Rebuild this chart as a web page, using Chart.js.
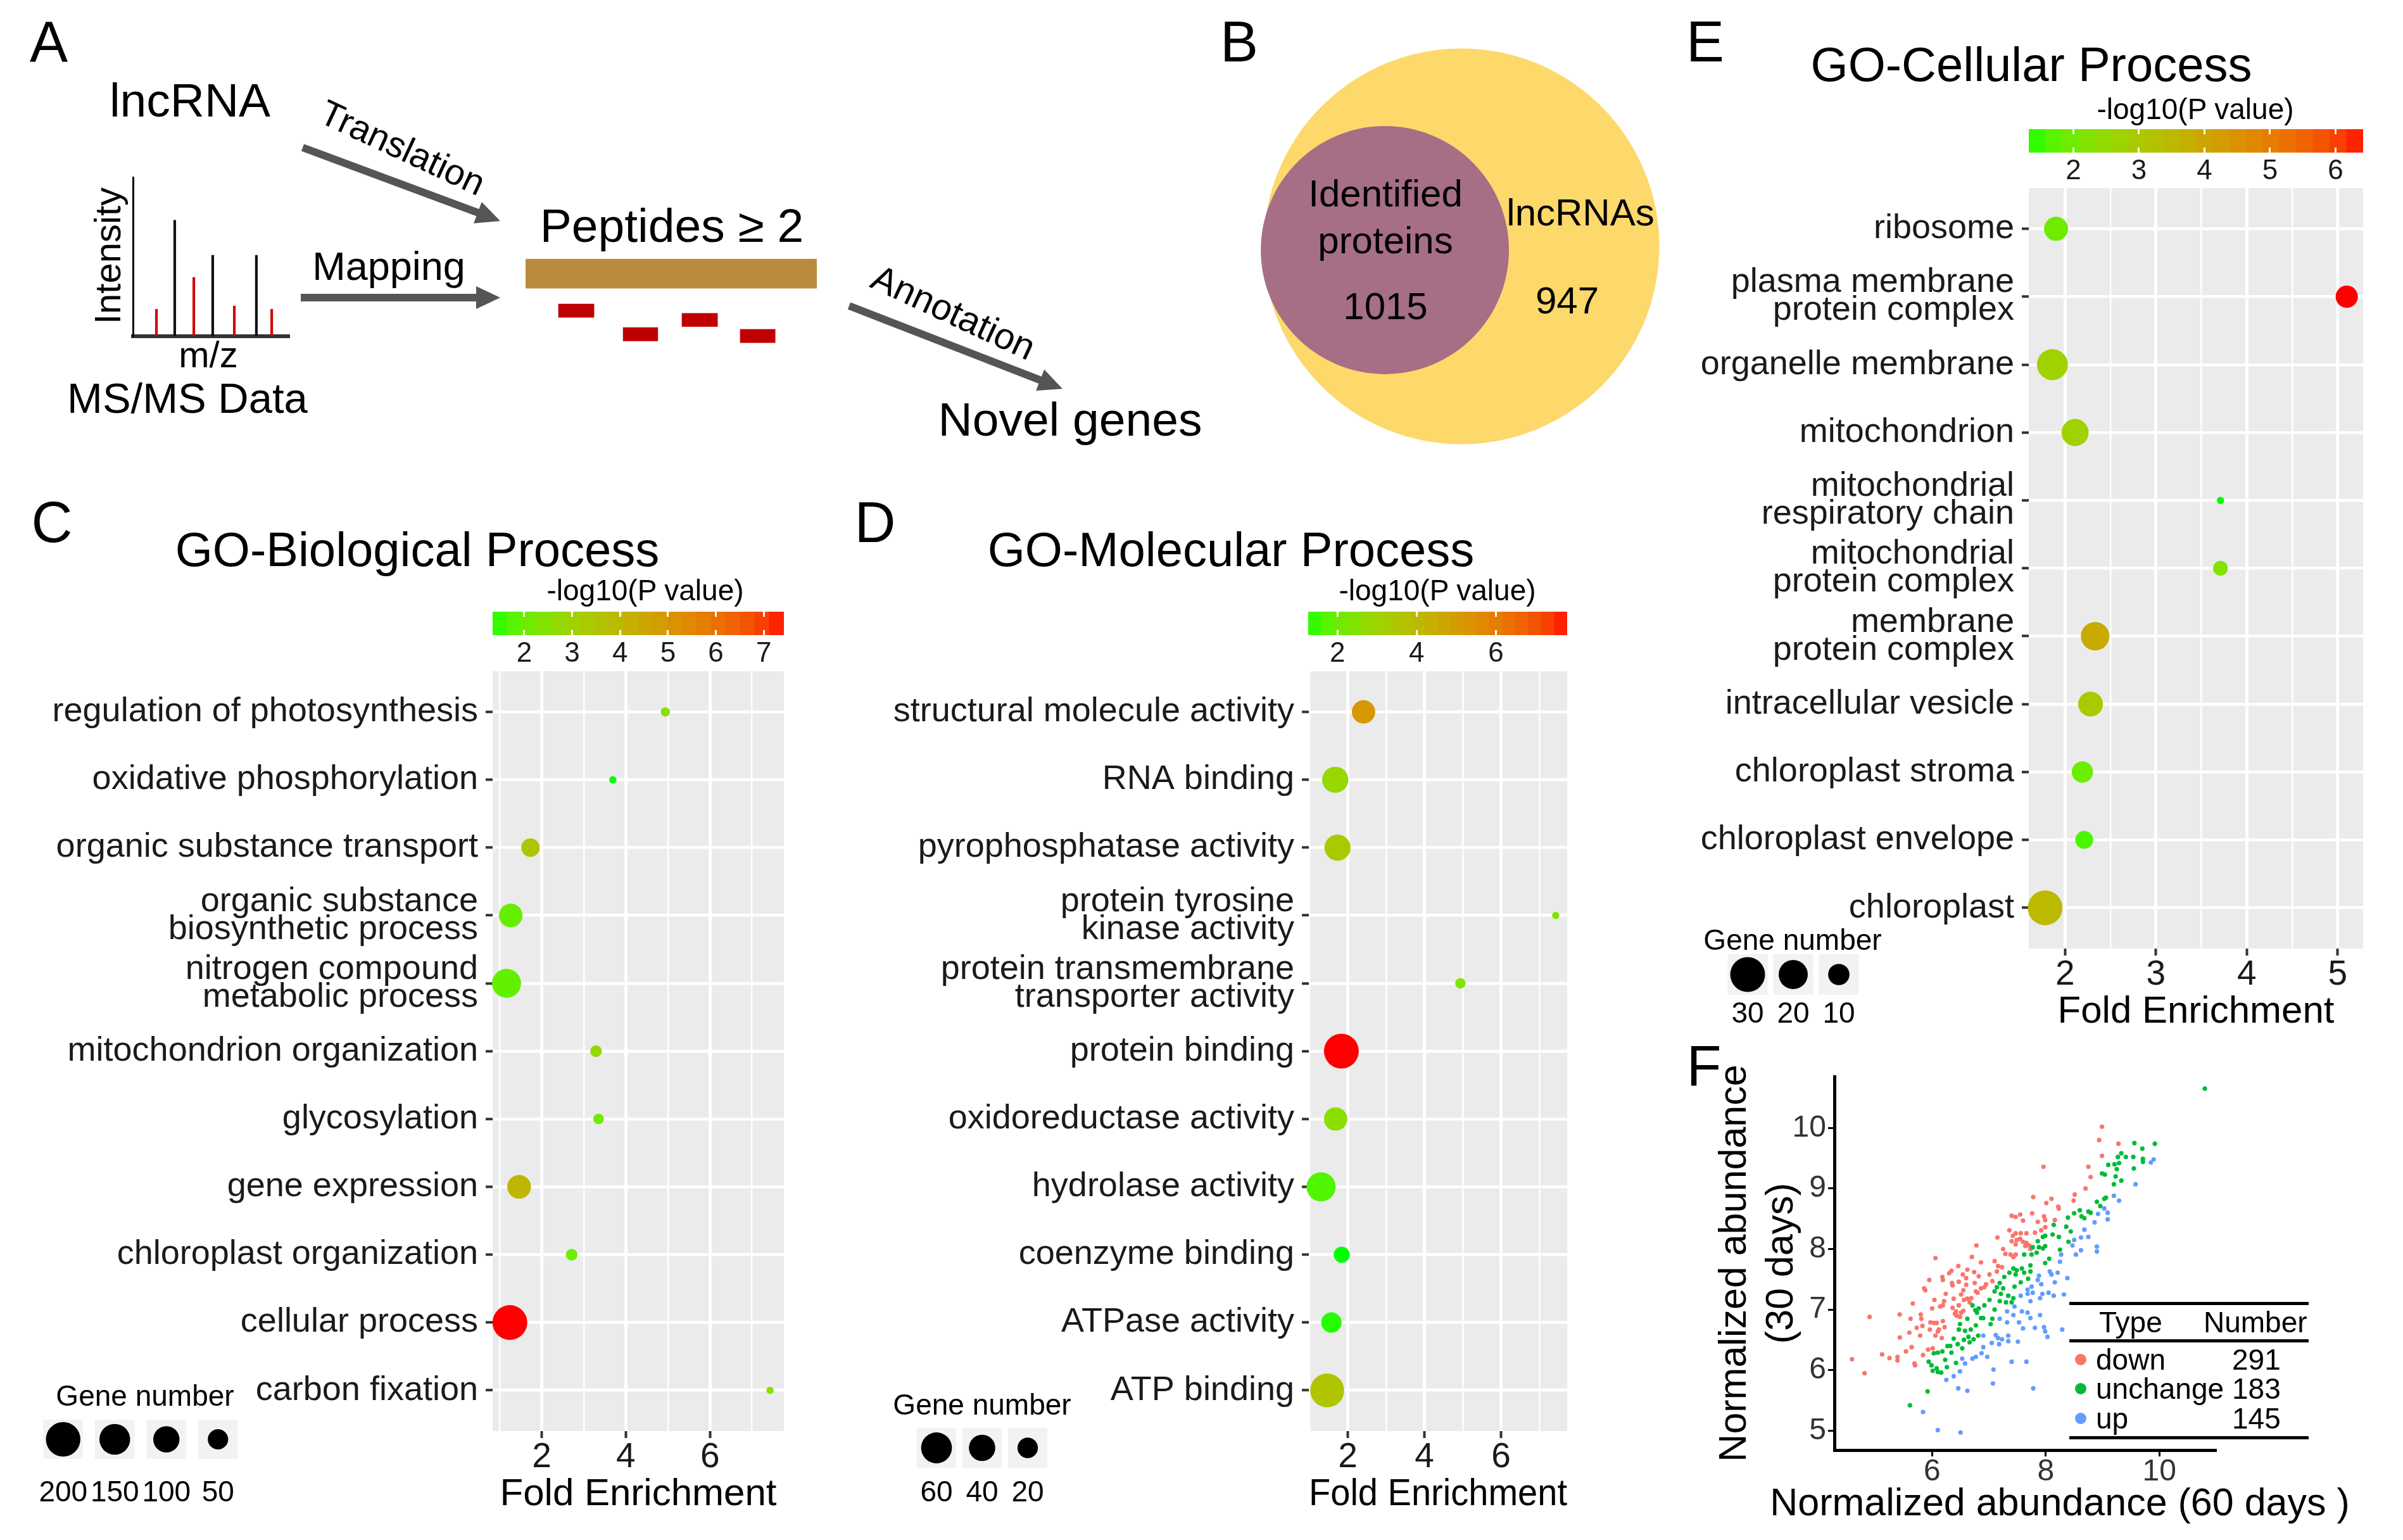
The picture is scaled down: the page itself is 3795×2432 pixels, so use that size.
<!DOCTYPE html>
<html>
<head>
<meta charset="utf-8">
<title>lncRNA peptides and GO enrichment</title>
<script src="https://cdn.jsdelivr.net/npm/chart.js@4.4.1/dist/chart.umd.min.js"></script>
<style>
  html, body { margin: 0; padding: 0; background: #fff; }
  #fig { position: relative; width: 3795px; height: 2432px; overflow: hidden;
         font-family: "Liberation Sans", Arial, Helvetica, sans-serif; color: #000; }
  #fig canvas { position: absolute; }
  .t { position: absolute; white-space: nowrap; line-height: 1; transform: translate(-50%, -50%); z-index: 5; }
  .rule { position: absolute; background: #000; height: 5px; z-index: 5; }
  .dot { position: absolute; width: 18px; height: 18px; border-radius: 50%; transform: translate(-50%, -50%); z-index: 5; }
</style>
</head>
<body>
<div id="fig">
  <svg id="arrows" width="3795" height="2432" style="position:absolute;left:0;top:0"></svg>
</div>
<script>
// ---------- data ----------
// A: schematic MS/MS spectrum (m/z in %, intensity in %)
const specMz   = [15, 26.7, 38.9, 51, 64.8, 78.9, 88.7];
const specInt  = [17, 73, 37, 51, 19, 51, 17];
const specKind = ['frag', 'prec', 'frag', 'prec', 'frag', 'prec', 'frag'];
// A: peptides mapped on the protein (sequence %), lane below the protein
const pepStart = [11.3, 33.5, 53.7, 73.7];
const pepEnd   = [23.5, 45.4, 65.9, 85.7];
const pepLane  = [1.27, 2.08, 1.59, 2.14];

// B: venn
const vennNames = ['lncRNAs', 'Identified proteins'];
const vennCount = [947, 1015];
const vennX = [0, -0.387];
const vennY = [0, -0.019];
const vennR = [1, 0.627];

// C: GO biological process
const bpTerms = ['regulation of photosynthesis', 'oxidative phosphorylation', 'organic substance transport',
  ['organic substance', 'biosynthetic process'], ['nitrogen compound', 'metabolic process'],
  'mitochondrion organization', 'glycosylation', 'gene expression', 'chloroplast organization',
  'cellular process', 'carbon fixation'];
const bpFold  = [4.94, 3.69, 1.73, 1.26, 1.16, 3.29, 3.35, 1.46, 2.71, 1.24, 7.43];
const bpGenes = [6, 5, 38, 75, 130, 10, 8, 77, 10, 205, 5];
const bpLogP  = [2.55, 1.34, 3.5, 1.95, 1.9, 2.85, 2.1, 4.0, 2.05, 7.42, 2.5];
const bpKeys  = [200, 150, 100, 50];

// D: GO molecular function
const mfTerms = ['structural molecule activity', 'RNA binding', 'pyrophosphatase activity',
  ['protein tyrosine', 'kinase activity'], ['protein transmembrane', 'transporter activity'],
  'protein binding', 'oxidoreductase activity', 'hydrolase activity', 'coenzyme binding',
  'ATPase activity', 'ATP binding'];
const mfFold  = [2.41, 1.67, 1.73, 7.43, 4.94, 1.83, 1.68, 1.30, 1.84, 1.57, 1.46];
const mfGenes = [29, 39, 39, 2, 3, 81, 29, 52, 10, 20, 76];
const mfLogP  = [5.2, 2.9, 3.4, 2.35, 2.4, 7.8, 2.6, 1.65, 1.26, 1.35, 3.6];
const mfKeys  = [60, 40, 20];

// E: GO cellular component
const ccTerms = ['ribosome', ['plasma membrane', 'protein complex'], 'organelle membrane', 'mitochondrion',
  ['mitochondrial', 'respiratory chain'], ['mitochondrial', 'protein complex'], ['membrane', 'protein complex'],
  'intracellular vesicle', 'chloroplast stroma', 'chloroplast envelope', 'chloroplast'];
const ccFold  = [1.90, 5.10, 1.86, 2.11, 3.71, 3.71, 2.33, 2.28, 2.19, 2.21, 1.78];
const ccGenes = [13, 11, 23, 17, 3, 5, 19, 14, 10, 7, 30];
const ccLogP  = [1.95, 6.42, 2.75, 2.75, 1.32, 2.2, 3.9, 3.0, 1.9, 1.6, 3.45];
const ccKeys  = [30, 20, 10];

// F: normalized abundance, 60 days (x) vs 30 days (y)
const fTypes  = ['down', 'unchange', 'up'];
const fCounts = [291, 183, 145];
const fDown = [
  [4.90,6.88],[4.59,6.18],[4.81,5.95],[5.12,6.26],[5.25,6.20],[5.39,6.22],[5.39,6.16],[5.43,6.92],[5.43,6.54],[5.60,6.62],
  [5.62,6.85],[5.66,7.10],[5.54,6.31],[5.64,6.38],[5.69,6.11],[5.70,6.08],[5.73,6.70],[5.79,6.57],[5.80,6.92],[5.81,6.85],
  [5.83,6.73],[5.84,6.25],[5.86,7.35],[5.88,7.32],[5.93,6.34],[5.96,6.67],[5.97,6.79],[6.00,7.02],[6.03,6.78],[6.04,7.16],
  [6.01,6.36],[6.06,6.57],[6.08,6.78],[6.10,6.64],[6.12,6.67],[6.17,6.53],[6.14,7.05],[6.19,7.07],[6.21,7.14],[6.19,6.81],
  [6.22,6.71],[6.24,7.26],[5.95,7.49],[6.19,7.49],[6.35,7.44],[6.36,7.03],[6.38,7.18],[6.42,6.97],[6.43,6.90],[6.47,7.07],
  [6.49,6.88],[6.51,7.25],[6.55,7.32],[6.56,7.16],[6.55,6.98],[6.60,7.41],[6.62,7.18],[6.66,7.12],[6.69,7.19],[6.75,7.44],
  [6.77,7.30],[6.80,7.28],[6.86,7.35],[6.92,7.37],[6.95,7.42],[7.06,7.47],[6.47,7.46],[6.36,7.40],[6.51,6.95],[6.40,6.93],
  [6.06,7.85],[6.78,8.06],[6.70,7.87],[6.34,7.64],[6.18,7.54],[6.54,7.58],[6.62,7.66],[6.46,7.72],[6.86,7.78],[6.60,7.52],
  [6.30,7.60],[6.74,7.62],[6.82,7.55],
  [7.40,8.55],[7.47,8.53],[7.55,8.57],[7.60,8.47],[7.76,8.59],[7.86,8.45],[7.97,8.54],[7.99,8.48],[8.16,8.48],[8.01,8.76],
  [7.36,8.31],[7.42,8.22],[7.47,8.26],[7.56,8.26],[7.66,8.26],[7.81,8.27],[7.92,8.31],[7.99,8.36],[7.15,8.19],[7.40,8.13],
  [7.49,8.15],[7.55,8.17],[7.60,8.12],[7.66,8.10],[7.71,8.06],[7.64,8.05],[7.47,8.08],[7.25,8.00],[7.29,7.92],[7.38,7.91],
  [7.43,7.87],[7.47,7.91],[7.10,7.80],[7.16,7.72],[7.23,7.70],[7.14,7.63],[7.01,7.58],[7.73,8.00],
  [7.78,8.86],[8.10,8.83],[7.96,9.36],[8.22,8.70],
  [8.99,10.02],[8.94,9.80],[9.28,9.74],[8.99,9.54],[8.75,9.36],[8.79,9.19],[8.70,9.00],[8.51,8.90],[8.49,8.80],[8.23,8.67]
];
const fUnchange = [
  [5.61,5.42],[5.92,5.65],[5.94,6.14],[5.99,6.08],[6.01,5.99],[6.08,6.03],[6.10,5.97],[6.16,5.96],[6.03,6.28],[6.10,6.29],
  [6.18,6.31],[6.23,6.17],[6.26,6.05],[6.27,6.40],[6.32,6.40],[6.34,6.29],[6.38,6.52],[6.42,6.12],[6.45,6.43],[6.47,6.67],
  [6.49,6.76],[6.53,6.36],[6.56,6.50],[6.58,6.65],[6.62,6.85],[6.64,6.55],[6.66,6.46],[6.68,6.67],[6.73,6.51],[6.77,6.74],
  [6.79,6.95],[6.81,6.57],[6.82,7.02],[6.86,6.86],[6.71,7.07],[6.76,6.99],
  [7.99,8.22],[7.95,8.20],[8.14,8.40],[8.12,8.24],[7.86,8.13],[7.77,8.03],[7.88,8.03],[7.95,8.01],[7.99,8.05],[8.25,7.99],
  [7.62,7.91],[7.75,7.91],[7.84,7.94],[8.06,7.84],[7.99,7.77],[7.73,7.73],[7.43,7.68],[7.49,7.65],[7.58,7.68],[7.36,7.61],
  [7.27,7.54],[7.47,7.58],[7.62,7.61],[7.73,7.63],[7.56,7.45],[7.45,7.38],[7.69,7.51],[7.19,7.44],[7.14,7.37],[7.10,7.30],
  [7.25,7.35],[7.21,7.26],[7.34,7.23],[7.43,7.19],[7.30,7.12],[7.19,7.14],[7.40,7.12],[7.01,7.16],[6.92,7.07],[7.10,7.00],
  [6.90,6.86],[7.06,6.85],[7.03,6.76],
  [10.80,10.65],[9.56,9.75],[9.92,9.74],[9.70,9.66],[9.33,9.58],[9.27,9.52],[9.41,9.52],[9.54,9.52],[9.71,9.49],[9.71,9.44],
  [9.10,9.39],[9.21,9.40],[9.29,9.42],[9.25,9.32],[9.55,9.33],[8.99,9.25],[9.04,9.23],[9.23,9.20],[9.33,9.13],[9.20,9.07],
  [9.06,8.85],[9.03,8.83],[8.90,8.78],[8.96,8.71],[8.60,8.64],[8.50,8.59],[8.75,8.62],[8.79,8.60],[8.39,8.52],[8.63,8.54],
  [8.68,8.51],[8.36,8.37],[8.44,8.29],[8.23,8.20],[8.40,8.12]
];
const fUp = [
  [6.10,5.01],[6.50,4.97],[5.84,5.31],[6.25,5.84],[6.38,5.90],[6.46,5.70],[6.49,5.98],[6.62,5.66],[6.53,6.19],[6.58,6.11],
  [6.71,6.19],[6.77,6.22],[6.87,6.28],[7.07,5.78],[7.78,5.70],
  [8.47,8.06],[8.90,7.96],[8.62,7.98],[8.53,7.91],[8.27,7.91],[8.25,7.79],[8.07,7.63],[8.10,7.58],[8.21,7.61],[8.38,7.52],
  [8.16,7.45],[7.88,7.56],[7.86,7.49],[7.92,7.42],[7.75,7.38],[7.68,7.33],[7.77,7.28],[7.68,7.26],[7.94,7.26],[8.05,7.28],
  [8.14,7.23],[8.32,7.25],[7.90,7.19],[7.56,7.23],[7.73,7.14],[7.45,7.05],[7.32,6.97],[7.58,6.97],[7.68,6.95],[7.90,6.91],
  [7.73,6.86],[7.43,6.91],[7.19,6.85],[7.32,6.79],[7.53,6.79],[7.60,6.69],[7.81,6.70],[7.97,6.71],[7.99,6.64],[8.03,6.55],
  [8.29,6.67],[7.12,6.58],[7.16,6.53],[7.23,6.51],[7.34,6.57],[7.34,6.48],[7.05,6.45],[7.18,6.43],[7.51,6.47],[6.90,6.57],
  [6.90,6.38],[6.97,6.22],[7.40,6.14],[7.66,6.14],[7.08,6.01],
  [9.90,9.48],[9.85,9.43],[9.58,9.07],[9.20,8.88],[9.29,8.80],[9.03,8.67],[9.09,8.60],[8.92,8.58],[9.09,8.49],[8.86,8.44],
  [8.68,8.32],[8.75,8.20],[8.62,8.19],[8.50,8.15],[8.90,8.04]
];
const fSeries = [fDown, fUnchange, fUp];
const fColors = ['#F8766D', '#00BA38', '#619CFF'];

// ---------- setup ----------
Chart.defaults.font.family = '"Liberation Sans", Arial, Helvetica, sans-serif';
Chart.defaults.color = '#000';
Chart.defaults.animation = false;
Chart.defaults.responsive = false;
Chart.defaults.maintainAspectRatio = false;
Chart.defaults.events = [];
Chart.defaults.devicePixelRatio = 1;
Chart.defaults.layout.autoPadding = false;
Chart.defaults.plugins.legend.display = false;
Chart.defaults.plugins.tooltip.enabled = false;

// grey panel behind the grid, like ggplot's theme_gray
Chart.register({
  id: 'panelBg',
  beforeDraw(chart, args, opts) {
    if (!opts || !opts.color) return;
    const a = chart.chartArea, c = chart.ctx;
    c.save();
    c.fillStyle = opts.color;
    c.fillRect(a.left, a.top, a.right - a.left, a.bottom - a.top);
    c.restore();
  }
});

// fixed axis boxes so the plot areas land where they should
const fixH = h => s => { s.height = h; s.paddingLeft = 0; s.paddingRight = 0; };
const fixW = w => s => { s.width = w; s.paddingTop = 0; s.paddingBottom = 0; };

const fig = document.getElementById('fig');

function addCanvas(x, y, w, h) {
  const c = document.createElement('canvas');
  c.width = w; c.height = h;
  Object.assign(c.style, { left: x + 'px', top: y + 'px', width: w + 'px', height: h + 'px' });
  fig.appendChild(c);
  return c;
}

function txt(s, x, y, size, rot) {
  const d = document.createElement('div');
  d.className = 't';
  d.textContent = s;
  d.style.left = x + 'px';
  d.style.top = y + 'px';
  d.style.fontSize = size + 'px';
  if (rot) d.style.transform = 'translate(-50%,-50%) rotate(' + rot + 'deg)';
  fig.appendChild(d);
}

// green -> red gradient interpolated in Lab, like scale_colour_gradient
function hexToLab(hex) {
  const c = [1, 3, 5].map(i => parseInt(hex.slice(i, i + 2), 16) / 255)
    .map(v => v <= 0.04045 ? v / 12.92 : Math.pow((v + 0.055) / 1.055, 2.4));
  const X = (0.4124564 * c[0] + 0.3575761 * c[1] + 0.1804375 * c[2]) / 0.95047;
  const Y = 0.2126729 * c[0] + 0.7151522 * c[1] + 0.0721750 * c[2];
  const Z = (0.0193339 * c[0] + 0.1191920 * c[1] + 0.9503041 * c[2]) / 1.08883;
  const f = t => t > 0.008856 ? Math.cbrt(t) : (7.787 * t + 16 / 116);
  return [116 * f(Y) - 16, 500 * (f(X) - f(Y)), 200 * (f(Y) - f(Z))];
}
function labToRgb(L, a, b) {
  const fy = (L + 16) / 116, fx = fy + a / 500, fz = fy - b / 200;
  const inv = t => t * t * t > 0.008856 ? t * t * t : (t - 16 / 116) / 7.787;
  const X = inv(fx) * 0.95047, Y = inv(fy), Z = inv(fz) * 1.08883;
  const r = 3.2404542 * X - 1.5371385 * Y - 0.4985314 * Z;
  const g = -0.9692660 * X + 1.8760108 * Y + 0.0415560 * Z;
  const bl = 0.0556434 * X - 0.2040259 * Y + 1.0572252 * Z;
  const gam = v => {
    v = v <= 0.0031308 ? 12.92 * v : 1.055 * Math.pow(v, 1 / 2.4) - 0.055;
    return Math.round(Math.min(1, Math.max(0, v)) * 255);
  };
  return 'rgb(' + gam(r) + ',' + gam(g) + ',' + gam(bl) + ')';
}
const LOW = hexToLab('#00FF00'), HIGH = hexToLab('#FF0000');
function gradColor(t) {
  t = Math.min(1, Math.max(0, t));
  return labToRgb(LOW[0] + (HIGH[0] - LOW[0]) * t, LOW[1] + (HIGH[1] - LOW[1]) * t, LOW[2] + (HIGH[2] - LOW[2]) * t);
}

// point size: area scale between the panel's smallest and largest gene count
function radiusOf(v, lo, hi) {
  return (11.5 + 43.5 * Math.sqrt(Math.max(0, v - lo) / (hi - lo))) / 2;
}

// ---------- A ----------
const svg = document.getElementById('arrows');
function arrow(x1, y1, x2, y2) {
  const L = Math.hypot(x2 - x1, y2 - y1), ang = Math.atan2(y2 - y1, x2 - x1) * 180 / Math.PI;
  const g = document.createElementNS('http://www.w3.org/2000/svg', 'g');
  g.setAttribute('transform', 'translate(' + x1 + ',' + y1 + ') rotate(' + ang + ')');
  g.innerHTML = '<rect x="0" y="-6" width="' + (L - 34) + '" height="12" fill="#555"/>' +
    '<polygon points="' + (L - 38) + ',-18 ' + L + ',0 ' + (L - 38) + ',18" fill="#555"/>';
  svg.appendChild(g);
}
arrow(478, 233, 790, 349);
arrow(475, 470, 790, 470);
arrow(1341, 483, 1678, 614);

new Chart(addCanvas(195, 270, 275, 270), {
  type: 'bar',
  data: { datasets: [{
    data: specMz.map((m, i) => ({ x: m, y: specInt[i] })),
    backgroundColor: specKind.map(k => k === 'prec' ? '#111' : '#D10000'),
    barThickness: 3.5, borderWidth: 0
  }] },
  options: {
    layout: { padding: { left: 15, right: 13, top: 10, bottom: 9 } },
    scales: {
      x: { type: 'linear', min: 0, max: 100, offset: false, grid: { display: false, offset: false },
           ticks: { display: false }, border: { color: '#333', width: 6 }, afterFit: fixH(0) },
      y: { type: 'linear', min: 0, max: 100, grid: { display: false }, ticks: { display: false },
           border: { color: '#000', width: 3 }, afterFit: fixW(0) }
    }
  }
});

new Chart(addCanvas(820, 400, 480, 160), {
  type: 'bar',
  data: { datasets: [
    { data: [{ x: [0, 100], y: 0 }], backgroundColor: '#B98B3E', barThickness: 46, borderWidth: 0, grouped: false },
    { data: pepStart.map((s, i) => ({ x: [s, pepEnd[i]], y: pepLane[i] })), backgroundColor: '#C00000',
      barThickness: 21, borderWidth: 0, grouped: false }
  ] },
  options: {
    indexAxis: 'y',
    layout: { padding: { left: 10, right: 10 } },
    scales: {
      x: { type: 'linear', min: 0, max: 100, display: false },
      y: { type: 'linear', min: -0.70, max: 2.78, reverse: true, offset: false, display: false }
    }
  }
});

// ---------- B ----------
new Chart(addCanvas(1958, 39, 700, 700), {
  type: 'scatter',
  data: { datasets: [{
    data: vennX.map((x, i) => ({ x: x, y: vennY[i] })),
    backgroundColor: ['#FDD86B', '#A66F85'],
    borderWidth: 0, clip: false,
    pointRadius: c => {
      const s = c.chart.scales.x;
      return Math.abs(s.getPixelForValue(vennR[c.dataIndex]) - s.getPixelForValue(0));
    }
  }] },
  options: {
    layout: { padding: 0 },
    scales: { x: { display: false, min: -1.12, max: 1.12 }, y: { display: false, min: -1.12, max: 1.12 } }
  }
});

// ---------- C, D, E ----------
function colorbar(o) {
  const lo = Math.min(...o.logp), hi = Math.max(...o.logp), n = 20, w = (hi - lo) / n;
  const bins = Array.from({ length: n }, (_, i) => lo + (i + 0.5) * w);
  new Chart(addCanvas(o.left, o.top, o.width, 110), {
    type: 'bar',
    data: { datasets: [{
      data: bins.map(v => ({ x: v, y: 1 })),
      backgroundColor: bins.map(v => gradColor((v - lo) / (hi - lo))),
      barPercentage: 1, categoryPercentage: 1, borderWidth: 0
    }] },
    options: {
      layout: { padding: { left: 8, right: 8, top: 10 } },
      scales: {
        x: { type: 'linear', min: lo, max: hi, offset: false,
             grid: { offset: false, color: '#fff', lineWidth: 3, drawTicks: false, z: 1 },
             border: { display: false, dash: [8, 21] },
             ticks: { stepSize: o.step, includeBounds: false, font: { size: 44, lineHeight: 1 }, color: '#1a1a1a', padding: 8 },
             afterFit: fixH(63) },
        y: { display: false, min: 0, max: 1 }
      }
    }
  });
}

function goPanel(o) {
  const gLo = Math.min(...o.genes), gHi = Math.max(...o.genes);
  const pLo = Math.min(...o.logp), pHi = Math.max(...o.logp);
  const major = v => Math.abs(v / o.major - Math.round(v / o.major)) < 1e-6;
  new Chart(addCanvas(o.left, o.top, o.width, o.height), {
    type: 'bubble',
    data: { datasets: [{
      data: o.fold.map((f, i) => ({ x: f, y: i, r: radiusOf(o.genes[i], gLo, gHi) })),
      backgroundColor: o.logp.map(p => gradColor((p - pLo) / (pHi - pLo))),
      borderWidth: 0, clip: false
    }] },
    options: {
      layout: { padding: { top: 10, right: 12, left: 0, bottom: 0 } },
      plugins: { panelBg: { color: '#EBEBEB' } },
      scales: {
        x: { type: 'linear', min: o.xMin, max: o.xMax,
             ticks: { stepSize: o.step, includeBounds: false, autoSkip: false, maxTicksLimit: 50,
                      font: { size: 55, lineHeight: 1 }, color: '#1a1a1a', padding: 3,
                      callback: v => major(v) ? v : '' },
             grid: { color: '#fff', lineWidth: c => major(c.tick.value) ? 5 : 2.5, tickLength: 11, tickWidth: 4,
                     tickColor: c => major(c.tick.value) ? '#333' : 'rgba(0,0,0,0)' },
             border: { display: false },
             title: { display: true, text: 'Fold Enrichment', font: { size: 60 }, color: '#000', padding: { top: 0, bottom: 36 } },
             afterFit: fixH(172) },
        y: { type: 'linear', reverse: true, min: -0.6, max: o.terms.length - 0.4,
             ticks: { stepSize: 1, includeBounds: false, autoSkip: false, font: { size: 54, lineHeight: '44px' },
                      color: '#1a1a1a', padding: 12, callback: v => o.terms[v] },
             grid: { color: '#fff', lineWidth: 4.5, tickLength: 11, tickWidth: 4, tickColor: '#333' },
             border: { display: false },
             afterFit: fixW(o.areaLeft - o.left) }
      }
    }
  });
}

function sizeLegend(o) {
  const gLo = Math.min(...o.genes), gHi = Math.max(...o.genes);
  new Chart(addCanvas(o.left, o.top, o.width, o.height), {
    type: 'bar',
    data: {
      labels: o.keys.map(String),
      datasets: [
        { type: 'bubble', data: o.keys.map(k => ({ x: String(k), y: 0.5, r: radiusOf(k, gLo, gHi) })),
          backgroundColor: '#000', borderWidth: 0, clip: false },
        { type: 'bar', data: o.keys.map(() => 1), backgroundColor: '#F2F2F2',
          barPercentage: o.box, categoryPercentage: 1, borderWidth: 0 }
      ]
    },
    options: {
      layout: { padding: { left: 10, right: 10, top: 10, bottom: 0 } },
      scales: {
        x: { type: 'category', offset: true, grid: { display: false }, border: { display: false },
             ticks: { autoSkip: false, maxRotation: 0, font: { size: 46, lineHeight: 1 }, color: '#000', padding: o.pad },
             afterFit: fixH(o.xh) },
        y: { display: false, min: 0, max: 1 }
      }
    }
  });
}

// C
colorbar({ left: 770, top: 956, width: 476, logp: bpLogP, step: 1 });
goPanel({ left: 0, top: 1050, width: 1250, height: 1382, areaLeft: 778, terms: bpTerms, fold: bpFold,
          genes: bpGenes, logp: bpLogP, xMin: 0.83, xMax: 7.76, step: 1, major: 2 });
sizeLegend({ left: 49, top: 2232, width: 346, height: 150, xh: 78, pad: 23, box: 0.77, keys: bpKeys, genes: bpGenes });

// D
colorbar({ left: 2058, top: 956, width: 425, logp: mfLogP, step: 2 });
goPanel({ left: 1290, top: 1050, width: 1197, height: 1382, areaLeft: 2067, terms: mfTerms, fold: mfFold,
          genes: mfGenes, logp: mfLogP, xMin: 0.98, xMax: 7.73, step: 1, major: 2 });
sizeLegend({ left: 1433, top: 2245, width: 236, height: 145, xh: 72, pad: 9, box: 0.86, keys: mfKeys, genes: mfGenes });

// E
colorbar({ left: 3196, top: 194, width: 544, logp: ccLogP, step: 1 });
goPanel({ left: 2660, top: 287, width: 1084, height: 1383, areaLeft: 3204, terms: ccTerms, fold: ccFold,
          genes: ccGenes, logp: ccLogP, xMin: 1.6, xMax: 5.28, step: 0.5, major: 1 });
sizeLegend({ left: 2714, top: 1497, width: 236, height: 120, xh: 46, pad: 0, box: 0.875, keys: ccKeys, genes: ccGenes });

// ---------- F ----------
new Chart(addCanvas(2680, 1640, 830, 792), {
  type: 'scatter',
  data: { datasets: fSeries.map((pts, i) => ({
    label: fTypes[i],
    data: pts.map(p => ({ x: p[0], y: p[1] })),
    backgroundColor: fColors[i], pointRadius: 3.6, borderWidth: 0,
    order: fTypes[i] === 'unchange' ? 0 : i + 1
  })) },
  options: {
    layout: { padding: { top: 60, right: 10, left: 0, bottom: 0 } },
    scales: {
      x: { type: 'linear', min: 4.28, max: 11.0,
           ticks: { stepSize: 2, includeBounds: false, font: { size: 48, lineHeight: 1 }, color: '#333', padding: 1 },
           grid: { drawOnChartArea: false, tickLength: 10, tickWidth: 3, tickColor: '#000' },
           border: { color: '#000', width: 5 },
           afterFit: fixH(142) },
      y: { type: 'linear', min: 4.68, max: 10.85,
           ticks: { stepSize: 1, includeBounds: false, font: { size: 48, lineHeight: 1 }, color: '#333', padding: 3 },
           grid: { drawOnChartArea: false, tickLength: 10, tickWidth: 3, tickColor: '#000' },
           border: { color: '#000', width: 5 },
           title: { display: true, text: ['Normalized abundance', '(30 days)'], font: { size: 61, lineHeight: 1.22 },
                    color: '#000', padding: { top: 23, bottom: 0 } },
           afterFit: fixW(217) }
    }
  }
});

// ---------- text ----------
txt('A', 77, 66, 90); txt('B', 1957, 66, 90); txt('C', 82, 825, 90);
txt('D', 1382, 825, 90); txt('E', 2693, 66, 90); txt('F', 2691, 1683, 90);

txt('lncRNA', 300, 158, 75);
txt('Translation', 636, 233, 57, 25);
txt('Intensity', 170, 404, 58, -90);
txt('m/z', 329, 560, 58);
txt('MS/MS Data', 296, 628, 67);
txt('Mapping', 614, 420, 63);
txt('Peptides \u2265 2', 1061, 356, 75);
txt('Annotation', 1506, 493, 58, 25);
txt('Novel genes', 1690, 662, 75);

txt('Identified', 2188, 306, 60);
txt('proteins', 2188, 380, 60);
txt(String(vennCount[1]), 2188, 484, 60);
txt('lncRNAs', 2496, 336, 60);
txt(String(vennCount[0]), 2475, 475, 60);

txt('GO-Biological Process', 659, 868, 76);
txt('-log10(P value)', 1019, 932, 46);
txt('Gene number', 229, 2204, 46);

txt('GO-Molecular Process', 1944, 868, 76);
txt('-log10(P value)', 2270, 932, 46);
txt('Gene number', 1551, 2218, 46);

txt('GO-Cellular Process', 3208, 102, 76);
txt('-log10(P value)', 3467, 172, 46);
txt('Gene number', 2831, 1484, 46);

txt('Normalized abundance (60 days )', 3253, 2372, 61);

// F legend table
function rule(y) {
  const d = document.createElement('div');
  d.className = 'rule';
  Object.assign(d.style, { left: '3268px', top: y + 'px', width: '378px' });
  fig.appendChild(d);
}
rule(2056); rule(2115); rule(2268);
function leftTxt(s, x, y, size) {
  const d = document.createElement('div');
  d.className = 't';
  d.textContent = s;
  Object.assign(d.style, { left: x + 'px', top: y + 'px', fontSize: size + 'px', transform: 'translate(0,-50%)' });
  fig.appendChild(d);
}
leftTxt('Type', 3315, 2088, 46);
leftTxt('Number', 3480, 2088, 46);
const rowY = [2147, 2193, 2240];
fTypes.forEach((t, i) => {
  const d = document.createElement('div');
  d.className = 'dot';
  Object.assign(d.style, { left: '3286px', top: rowY[i] + 'px', background: fColors[i] });
  fig.appendChild(d);
  leftTxt(t, 3310, rowY[i], 46);
  leftTxt(String(fCounts[i]), 3525, rowY[i], 46);
});
</script>
</body>
</html>
